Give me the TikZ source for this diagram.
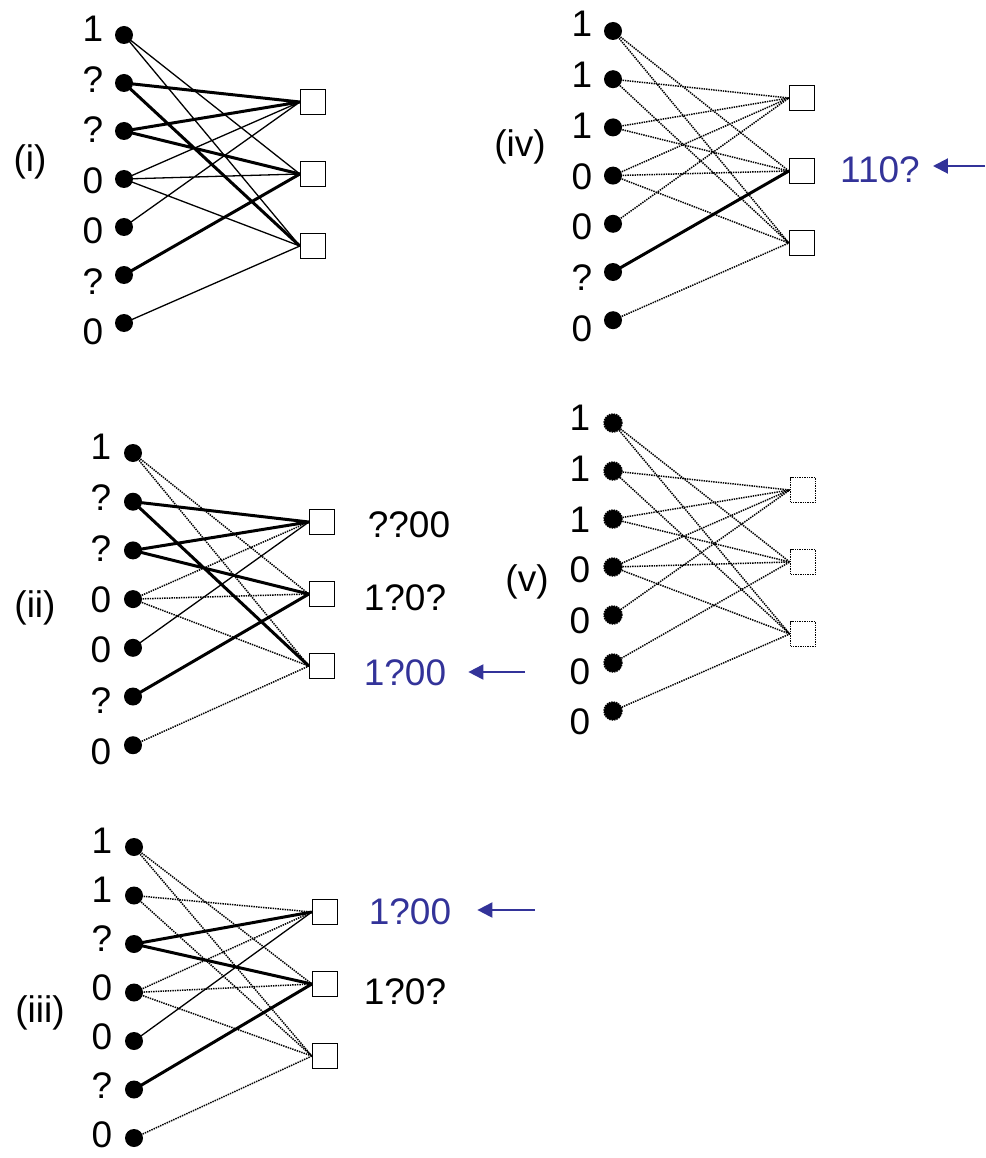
\documentclass[tikz,border=0pt]{standalone}
\usepackage{fontspec}
\setmainfont{Liberation Sans}
\usetikzlibrary{arrows.meta}
\definecolor{msgblue}{RGB}{51,51,153}
\tikzset{
  var/.style={circle, fill=black, inner sep=0pt, minimum size=18pt},
  chk/.style={draw, rectangle, inner sep=0pt, minimum size=25pt, line width=1.3pt},
  val/.style={inner sep=0pt, font=\fontsize{37}{42}\selectfont},
  known/.style={dash pattern=on 1.4pt off 1pt, line width=1.5pt},
  open/.style={line width=1.3pt},
  erased/.style={line width=3pt},
  pointer/.style={msgblue, line width=2pt, -{Triangle[length=15pt,width=15pt]}},
}
\begin{document}
\begin{tikzpicture}[x=1pt, y=-1pt]
\useasboundingbox (0,0) rectangle (985,1158);

% (i)
\node[val] (i) at (30,162) {(i)};
\foreach \t [count=\k] in {1,?,?,0,0,?,0} {
  \node[var] (i\k) at (124,{35+48*(\k-1)}) {};
  \node[val] (il\k) at (93,{29+50.5*(\k-1)}) {\t};
}
\foreach \k/\y in {1/102,2/174,3/246}
  \node[chk] (ic\k) at (313,\y) {};
\draw[open] (i1.center) -- (ic2.west) (i1.center) -- (ic3.west)
  (i4.center) -- (ic1.west) (i4.center) -- (ic2.west) (i4.center) -- (ic3.west)
  (i5.center) -- (ic1.west) (i7.center) -- (ic3.west);
\draw[erased] (i2.center) -- (ic1.west) (i2.center) -- (ic3.west)
  (i3.center) -- (ic1.west) (i3.center) -- (ic2.west) (i6.center) -- (ic2.west);

% (ii)
\node[val] (ii) at (35,608) {(ii)};
\foreach \t [count=\k] in {1,?,?,0,0,?,0} {
  \node[var] (ii\k) at (133,{453+48.7*(\k-1)}) {};
  \node[val] (iil\k) at (101,{447+50.8*(\k-1)}) {\t};
}
\foreach \k/\y in {1/522,2/594,3/666}
  \node[chk] (iic\k) at (322,\y) {};
\draw[known] (ii1.center) -- (iic2.west) (ii1.center) -- (iic3.west)
  (ii4.center) -- (iic1.west) (ii4.center) -- (iic2.west) (ii4.center) -- (iic3.west)
  (ii7.center) -- (iic3.west);
\draw[open] (ii5.center) -- (iic1.west);
\draw[erased] (ii2.center) -- (iic1.west) (ii2.center) -- (iic3.west)
  (ii3.center) -- (iic1.west) (ii3.center) -- (iic2.west) (ii6.center) -- (iic2.west);
\node[val] (iit1) at (409,525) {??00};
\node[val] (iit2) at (405,598) {1?0?};
\node[val, msgblue] (iit3) at (405,673) {1?00};
\coordinate (iia) at (525,672);
\draw[pointer, shorten >=22pt] (iia) -- (iia -| iit3.east);

% (iii)
\node[val] (iii) at (40,1013) {(iii)};
\foreach \t [count=\k] in {1,1,?,0,0,?,0} {
  \node[var] (iii\k) at (134,{847+48.5*(\k-1)}) {};
  \node[val] (iiil\k) at (102,{841+49*(\k-1)}) {\t};
}
\foreach \k/\y in {1/912,2/984,3/1056}
  \node[chk] (iiic\k) at (325,\y) {};
\draw[known] (iii1.center) -- (iiic2.west) (iii1.center) -- (iiic3.west)
  (iii2.center) -- (iiic1.west) (iii2.center) -- (iiic3.west)
  (iii4.center) -- (iiic1.west) (iii4.center) -- (iiic2.west) (iii4.center) -- (iiic3.west)
  (iii7.center) -- (iiic3.west);
\draw[open] (iii5.center) -- (iiic1.west);
\draw[erased] (iii3.center) -- (iiic1.west) (iii3.center) -- (iiic2.west)
  (iii6.center) -- (iiic2.west);
\node[val, msgblue] (iiit1) at (410,912) {1?00};
\node[val] (iiit2) at (405,992) {1?0?};
\coordinate (iiia) at (535,910);
\draw[pointer, shorten >=26pt] (iiia) -- (iiia -| iiit1.east);

% (iv)
\node[val] (iv) at (520,147) {(iv)};
\foreach \t [count=\k] in {1,1,1,0,0,?,0} {
  \node[var] (iv\k) at (613,{31+48.2*(\k-1)}) {};
  \node[val] (ivl\k) at (582,{24+50.8*(\k-1)}) {\t};
}
\foreach \k/\y in {1/98,2/171,3/243}
  \node[chk] (ivc\k) at (802,\y) {};
\draw[known] (iv1.center) -- (ivc2.west) (iv1.center) -- (ivc3.west)
  (iv2.center) -- (ivc1.west) (iv2.center) -- (ivc3.west)
  (iv3.center) -- (ivc1.west) (iv3.center) -- (ivc2.west)
  (iv4.center) -- (ivc1.west) (iv4.center) -- (ivc2.west) (iv4.center) -- (ivc3.west)
  (iv5.center) -- (ivc1.west) (iv7.center) -- (ivc3.west);
\draw[erased] (iv6.center) -- (ivc2.west);
\node[val, msgblue] (ivt) at (880,170) {110?};
\coordinate (iva) at (985,166);
\draw[pointer, shorten >=13pt] (iva) -- (iva -| ivt.east);

% (v)
\node[val] (v) at (527,582) {(v)};
\foreach \t [count=\k] in {1,1,1,0,0,0,0} {
  \node[var, draw, known] (v\k) at (613,{423+48*(\k-1)}) {};
  \node[val] (vl\k) at (580,{418+50.7*(\k-1)}) {\t};
}
\foreach \k/\y in {1/490,2/562,3/634}
  \node[chk, known] (vc\k) at (803,\y) {};
\draw[known] (v1.center) -- (vc2.west) (v1.center) -- (vc3.west)
  (v2.center) -- (vc1.west) (v2.center) -- (vc3.west)
  (v3.center) -- (vc1.west) (v3.center) -- (vc2.west)
  (v4.center) -- (vc1.west) (v4.center) -- (vc2.west) (v4.center) -- (vc3.west)
  (v5.center) -- (vc1.west) (v6.center) -- (vc2.west) (v7.center) -- (vc3.west);
\end{tikzpicture}
\end{document}
